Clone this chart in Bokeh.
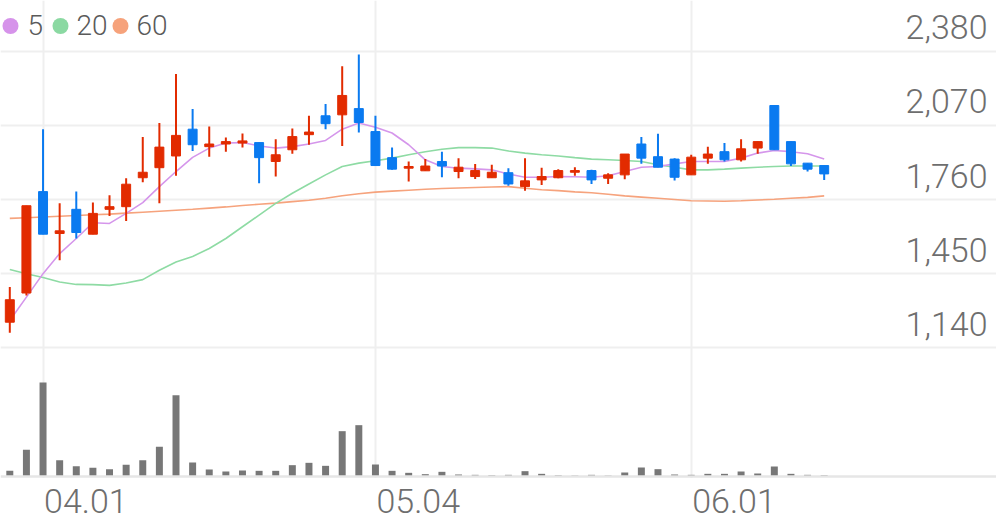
from bokeh.plotting import figure
from bokeh.models import Range1d, FixedTicker, ColumnDataSource, Grid, Span
from bokeh.layouts import column
from bokeh.embed import file_html
from bokeh.resources import INLINE
from bokeh.core.properties import value

# ---------------- data ----------------
open_ = [1247, 1369, 1793, 1618, 1719, 1615, 1719, 1730, 1851, 1893,
         1942, 2054, 1981, 1992, 1996, 1998, 1919, 1968, 2031, 2110,
         2114, 2140, 2044, 1935, 1891, 1880, 1919, 1877, 1856, 1851,
         1872, 1814, 1842, 1851, 1874, 1881, 1849, 1863, 1992, 1939,
         1929, 1863, 1933, 1960, 1926, 1975, 2153, 2002, 1912, 1902]
high = [1394, 1734, 2054, 1744, 1793, 1748, 1778, 1849, 2021, 2080,
        2285, 2138, 2065, 2019, 2036, 1998, 2012, 2057, 2110, 2159,
        2317, 2366, 2110, 1977, 1919, 1929, 1960, 1933, 1908, 1905,
        1891, 1933, 1893, 1887, 1895, 1884, 1870, 1950, 2021, 2035,
        1933, 1947, 1981, 1996, 2012, 2002, 2153, 2002, 1912, 1902]
low = [1203, 1359, 1615, 1506, 1597, 1615, 1691, 1670, 1832, 1744,
       1859, 1963, 1939, 1960, 1977, 1828, 1856, 1951, 1989, 2054,
       1984, 2040, 1902, 1884, 1835, 1880, 1853, 1849, 1846, 1851,
       1817, 1797, 1821, 1849, 1859, 1825, 1825, 1845, 1909, 1895,
       1839, 1863, 1909, 1919, 1919, 1951, 1968, 1900, 1877, 1842]
close_ = [1341, 1734, 1615, 1629, 1622, 1702, 1730, 1824, 1874, 1979,
          2028, 1989, 1992, 2002, 2005, 1935, 1947, 2023, 2042, 2077,
          2195, 2082, 1902, 1887, 1898, 1900, 1900, 1895, 1881, 1874,
          1825, 1838, 1856, 1881, 1881, 1842, 1863, 1950, 1933, 1895,
          1853, 1937, 1950, 1926, 1972, 2002, 1968, 1909, 1887, 1867]
volume = [170, 800, 2820, 490, 310, 260, 220, 350, 490, 890,
          2440, 420, 210, 150, 180, 170, 170, 340, 410, 320,
          1360, 1540, 360, 170, 110, 70, 140, 60, 50, 40,
          50, 160, 80, 40, 30, 50, 30, 120, 270, 220,
          60, 50, 80, 80, 150, 90, 300, 80, 50, 40]
ma5 = [1254, 1352, 1450, 1534, 1597, 1663, 1660, 1702, 1747, 1814,
       1877, 1936, 1975, 1996, 1998, 1984, 1975, 1981, 1992, 2007,
       2054, 2080, 2062, 2038, 1989, 1926, 1898, 1891, 1888, 1884,
       1867, 1853, 1853, 1856, 1855, 1853, 1859, 1877, 1895, 1898,
       1909, 1919, 1919, 1919, 1933, 1954, 1965, 1960, 1951, 1929]
ma20 = [1467, 1450, 1434, 1415, 1405, 1404, 1401, 1411, 1425, 1464,
        1499, 1522, 1555, 1597, 1646, 1695, 1744, 1786, 1825, 1863,
        1898, 1912, 1922, 1933, 1947, 1960, 1970, 1977, 1977, 1975,
        1963, 1954, 1947, 1942, 1935, 1929, 1926, 1923, 1919, 1905,
        1895, 1884, 1884, 1887, 1891, 1895, 1898, 1900, 1900, 1900]
ma60 = [1681, 1684, 1687, 1690, 1693, 1696, 1699, 1703, 1707, 1711,
        1715, 1719, 1724, 1729, 1735, 1740, 1745, 1751, 1757, 1765,
        1776, 1784, 1791, 1795, 1799, 1803, 1806, 1808, 1810, 1812,
        1814, 1807, 1801, 1797, 1792, 1788, 1782, 1775, 1770, 1765,
        1760, 1755, 1754, 1753, 1755, 1758, 1761, 1765, 1769, 1775]
xtick_pos = [2, 22, 41]
xtick_labels = ["04.01", "05.04", "06.01"]
ytick_vals = [1140, 1450, 1760, 2070, 2380]
ytick_labels = ["1,140", "1,450", "1,760", "2,070", "2,380"]
legend_names = ["5", "20", "60"]

# ---------------- styles ----------------
FONT = value("Roboto Light, Roboto")
RED = "#E22B00"
BLUE = "#0A7AF0"
MA_COLORS = ["#D596EB", "#8EDBA4", "#F6A37D"]
LEG_COLORS = ["#D693EA", "#8BD9A2", "#F6A27B"]
GRID = "#EFEFEF"
TXT = "#6E6E6E"

idx = list(range(len(close_)))
src = ColumnDataSource(dict(
    x=idx, high=high, low=low, vol=volume,
    top=[max(o, c) for o, c in zip(open_, close_)],
    bottom=[min(o, c) for o, c in zip(open_, close_)],
    color=[RED if c >= o else BLUE for o, c in zip(open_, close_)],
))

W = 996
H_TOP = 478
H_BOT = 41

p = figure(width=W, height=H_TOP, output_backend="svg", toolbar_location=None,
           x_range=Range1d(-0.5596, 59.368), y_range=Range1d(593.6, 2592.0),
           x_axis_location=None, y_axis_location=None, min_border=0,
           outline_line_color=None, background_fill_color="white")
p.center = []
p.extra_y_ranges = {"vol": Range1d(-60, 14280), "px": Range1d(H_TOP, 0)}
p.extra_x_ranges = {"px": Range1d(0, W)}

p.add_layout(Grid(dimension=1, ticker=FixedTicker(ticks=ytick_vals),
                  grid_line_color=GRID, grid_line_width=2))
p.add_layout(Grid(dimension=0, ticker=FixedTicker(ticks=xtick_pos),
                  grid_line_color=GRID, grid_line_width=2))

# volume
p.vbar(x="x", top="vol", bottom=0, width=0.42, fill_color="#777777",
       line_color=None, y_range_name="vol", source=src)
p.add_layout(Span(location=0, dimension="width", y_range_name="vol",
                  line_color="#E6E6E6", line_width=2.5))

# moving averages
for ma, col in zip([ma60, ma20, ma5], MA_COLORS[::-1]):
    p.line(idx, ma, line_color=col, line_width=1.6)

# candles
p.segment(x0="x", y0="high", x1="x", y1="low", line_color="color",
          line_width=2, source=src)
p.vbar(x="x", top="top", bottom="bottom", width=0.54, fill_color="color",
       line_color="color", line_width=1, source=src)

# price labels (inside, right)
p.text(x=[987] * len(ytick_vals), y=ytick_vals, text=ytick_labels,
       x_range_name="px", text_align="right", text_baseline="middle",
       y_offset=-24, text_font=FONT, text_font_size="34px", text_color=TXT)

# legend
p.scatter(x=[10, 60, 120], y=[25.5] * 3, x_range_name="px", y_range_name="px",
          marker="circle", size=16, fill_color=LEG_COLORS, line_color=None)
p.text(x=[27, 76, 136], y=[24.5] * 3, text=legend_names,
       x_range_name="px", y_range_name="px", text_align="left",
       text_baseline="middle", text_font=FONT, text_font_size="28px",
       text_color="#5A5A5A")

# date labels strip
q = figure(width=W, height=H_BOT, output_backend="svg", toolbar_location=None,
           x_range=p.x_range, y_range=Range1d(H_BOT, 0),
           x_axis_location=None, y_axis_location=None, min_border=0,
           outline_line_color=None, background_fill_color="white")
q.center = []
q.text(x=xtick_pos, y=[22] * len(xtick_pos), text=xtick_labels,
       text_align="left", text_baseline="middle", x_offset=1,
       text_font=FONT, text_font_size="34px", text_color=TXT)

layout = column(p, q, spacing=0)
open("out.html", "w").write(file_html(layout, INLINE))
